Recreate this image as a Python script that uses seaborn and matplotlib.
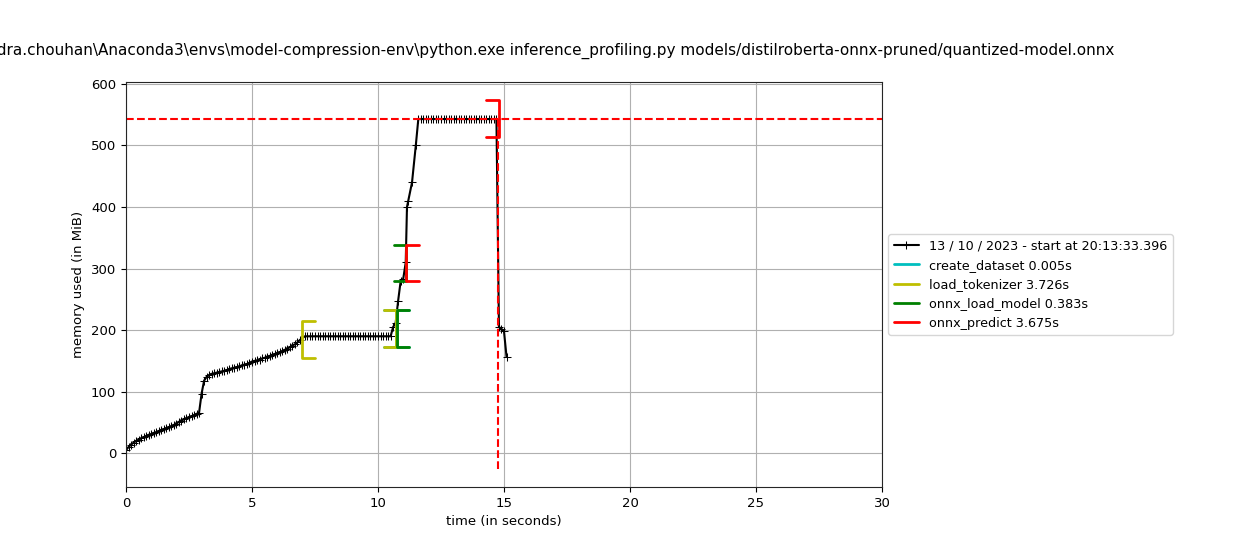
import numpy as np
import pandas as pd
import seaborn as sns
import matplotlib.pyplot as plt

# memory samples (MiB), ~0.1 s spacing
mem_ramp1 = [5, 10, 14, 17, 20, 22, 24, 26, 28, 30, 31, 33, 34, 36, 38, 39, 41, 42, 44, 46,
             48, 51, 53, 55, 57, 59, 60, 62, 64, 66]
mem_jump = [97, 118, 124, 127, 129]
mem_ramp2 = [130, 131, 132, 133, 134, 135, 137, 138, 139, 140, 141, 143, 144, 145, 147, 149, 150,
             151, 152, 154, 155, 157, 158, 160, 161, 163, 164, 166, 168, 170, 172, 175, 177, 180, 184]
mem_flat1 = [190] * 35
mem_rise = [205, 212, 248, 280, 283, 310, 400, 410, 440, 500]
mem_peak = [543] * 32
mem_tail = [205, 202, 198, 157]

t_ramp1 = list(np.round(np.arange(0, 3.0, 0.1), 2))
t_jump = [3.0, 3.1, 3.2, 3.3, 3.4]
t_ramp2 = list(np.round(np.arange(3.5, 7.0, 0.1), 2))
t_flat1 = list(np.round(np.arange(7.1, 10.6, 0.1), 2))
t_rise = [10.6, 10.7, 10.8, 10.9, 11.0, 11.1, 11.15, 11.2, 11.35, 11.5]
t_peak = list(np.round(np.arange(11.6, 14.8, 0.1), 2))
t_tail = [14.9, 15.0, 15.1, 15.25]

times = t_ramp1 + t_jump + t_ramp2 + t_flat1 + t_rise + t_peak + t_tail
mem = mem_ramp1 + mem_jump + mem_ramp2 + mem_flat1 + mem_rise + mem_peak + mem_tail
df = pd.DataFrame({"time": times[:len(mem)], "mem": mem[:len(times)]})

# function brackets: name, start, end, (min,max) at start, (min,max) at end, colour
funcs = ["create_dataset 0.005s", "load_tokenizer 3.726s", "onnx_load_model 0.383s", "onnx_predict 3.675s"]
f_start = [10.73, 7.0, 10.74, 11.12]
f_end = [10.735, 10.726, 11.12, 14.795]
f_start_rng = [(172, 232), (155, 215), (172, 232), (280, 338)]
f_end_rng = [(172, 232), (172, 232), (280, 338), (513, 574)]
f_colors = ["c", "y", "g", "r"]

peak_mem = 543
peak_time = 14.78

sns.set_style("ticks")
plt.rcParams.update({"text.color": "black", "axes.labelcolor": "black",
                     "xtick.color": "black", "ytick.color": "black"})
fig = plt.figure(figsize=(12.6, 5.4), dpi=100)
ax = fig.add_axes([0.1, 0.098, 0.6, 0.75])

sns.lineplot(data=df, x="time", y="mem", ax=ax, color="k", marker="+", markersize=6,
             markeredgecolor="k", label="13 / 10 / 2023 - start at 20:13:33.396", sort=False)

w = 0.5
for name, ts, te, rs, re, c in zip(funcs, f_start, f_end, f_start_rng, f_end_rng, f_colors):
    ax.plot([ts + w, ts, ts, ts + w], [rs[0], rs[0], rs[1], rs[1]], color=c, lw=2, label=name)
    ax.plot([te - w, te, te, te - w], [re[0], re[0], re[1], re[1]], color=c, lw=2)

ax.axhline(peak_mem, color="r", ls="--", lw=1.5)
ax.plot([peak_time, peak_time], [-25, peak_mem], color="r", ls="--", lw=1.5)

ax.set_xlim(0, 30)
ax.set_ylim(-55, 603)
ax.set_yticks(range(0, 601, 100))
ax.tick_params(labelsize=9.5)
ax.grid(True, color="#b0b0b0")
ax.set_xlabel("time (in seconds)", fontsize=9.5)
ax.set_ylabel("memory used (in MiB)", fontsize=9.5)
ax.set_title(r"C:\Users\jitendra.chouhan\Anaconda3\envs\model-compression-env\python.exe "
             "inference_profiling.py models/distilroberta-onnx-pruned/quantized-model.onnx",
             fontsize=11, pad=20)
ax.legend(loc="center left", bbox_to_anchor=(1.0, 0.5), frameon=True, fontsize=9.2)

fig.savefig("out.png", dpi=100)
